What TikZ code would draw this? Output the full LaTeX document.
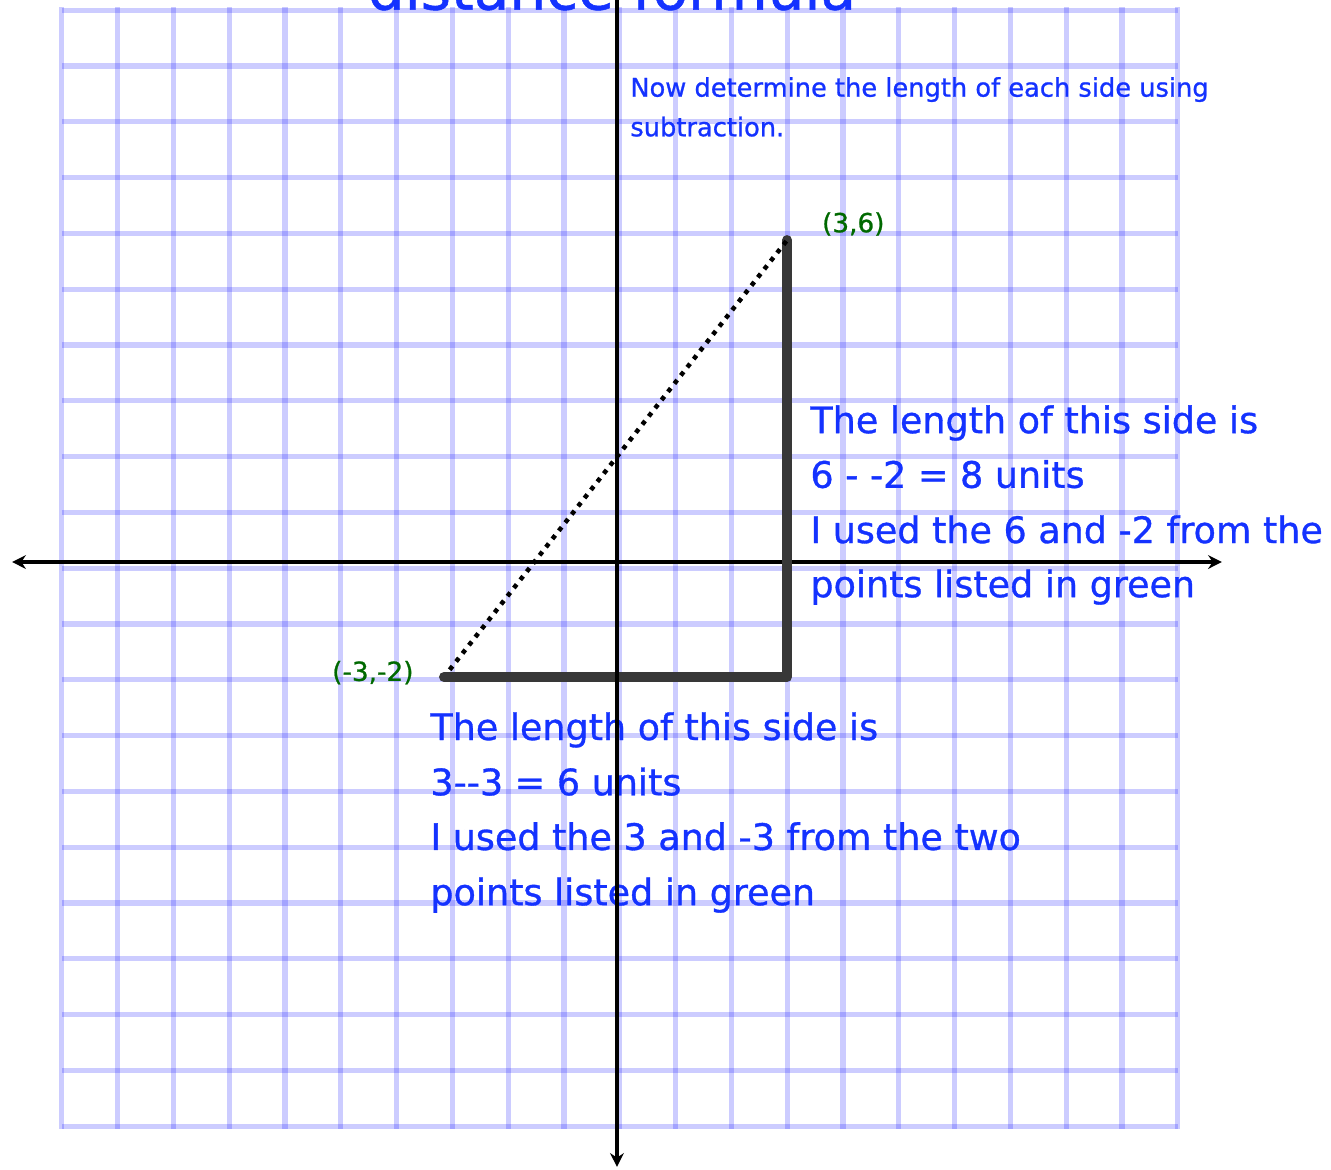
\documentclass[tikz,border=0pt]{standalone}
\usepackage{fontspec}
\setmainfont{DejaVu Sans}[Ligatures=TeXOff, FakeBold=0.9]
\usetikzlibrary{arrows.meta}

\definecolor{penblue}{RGB}{20,50,255}
\definecolor{pengreen}{RGB}{0,105,0}
\definecolor{pengray}{RGB}{56,56,56}

\begin{document}
\begin{tikzpicture}[
    gridline/.style={line width=2.6pt, blue, opacity=0.2},
    axisline/.style={line width=2.3pt, {Stealth[length=7pt,width=7pt]}-{Stealth[length=7pt,width=7pt]}},
    sideline/.style={line width=5.1pt, pengray, line cap=round, line join=round},
    hypline/.style={line width=2.3pt, dash pattern=on 2.3pt off 3pt},
    bignote/.style={anchor=base west, inner sep=0pt, penblue, font=\fontsize{18.6}{22}\selectfont},
    smallnote/.style={anchor=base west, inner sep=0pt, penblue, font=\fontsize{13.1}{16}\selectfont},
    ptlabel/.style={anchor=base west, inner sep=0pt, pengreen, font=\fontsize{13.4}{16}\selectfont}]

% page size
\useasboundingbox (-11.057,-10.878) rectangle (12.796,10.072);

% graph paper
\foreach \k in {0,...,20}
  \draw [gridline] (-9.95+\k,-10.16) -- (-9.95+\k,9.94);
\foreach \k in {0,...,20}
  \draw [gridline] (-9.95,-10.11+\k) -- (10.05,-10.11+\k);

% title (cut off at the top)
\node [anchor=base, inner sep=0pt, penblue, font=\fontsize{29.6}{34}\selectfont] (title) at (-0.09,9.9) {distance formula};

% instruction
\draw (0.233,8.34) node[smallnote] (howto1) {Now determine the length of each side using}
      (0.233,7.63) node[smallnote] (howto2) {subtraction.};

% vertical side
\draw (3.46,2.31)  node[bignote] (vside1) {The length of this side is}
      (3.46,1.33)  node[bignote] (vside2) {6 - -2 = 8 units}
      (3.46,0.34)  node[bignote] (vside3) {I used the 6 and -2 from the}
      (3.46,-0.63) node[bignote] (vside4) {points listed in green};

% horizontal side
\draw (-3.35,-3.19) node[bignote] (hside1) {The length of this side is}
      (-3.35,-4.18) node[bignote] (hside2) {3--3 = 6 units}
      (-3.35,-5.16) node[bignote] (hside3) {I used the 3 and -3 from the two}
      (-3.35,-6.15) node[bignote] (hside4) {points listed in green};

% axes ends
\coordinate (xleft)   at (-10.84,0);
\coordinate (xright)  at (10.84,0);
\coordinate (ytop)    at (0,10.84);
\coordinate (ybottom) at (0,-10.84);

% horizontal axis
\draw [axisline] (xleft) -- (xright);

% right triangle
\coordinate (ptA) at (-3.1,-2.06);
\coordinate (ptB) at (3.05,-2.06);
\coordinate (ptC) at (3.05,5.77);
\draw [sideline] (ptA) -- (ptB) -- (ptC);
\draw [hypline, shorten <=4.7pt] (ptA) -- (ptC);

% vertical axis
\draw [axisline] (ytop) -- (ybottom);

% points
\draw (3.67,5.91)   node[ptlabel] (labC) {(3,6)}
      (-5.11,-2.13) node[ptlabel] (labA) {(-3,-2)};

\end{tikzpicture}
\end{document}
